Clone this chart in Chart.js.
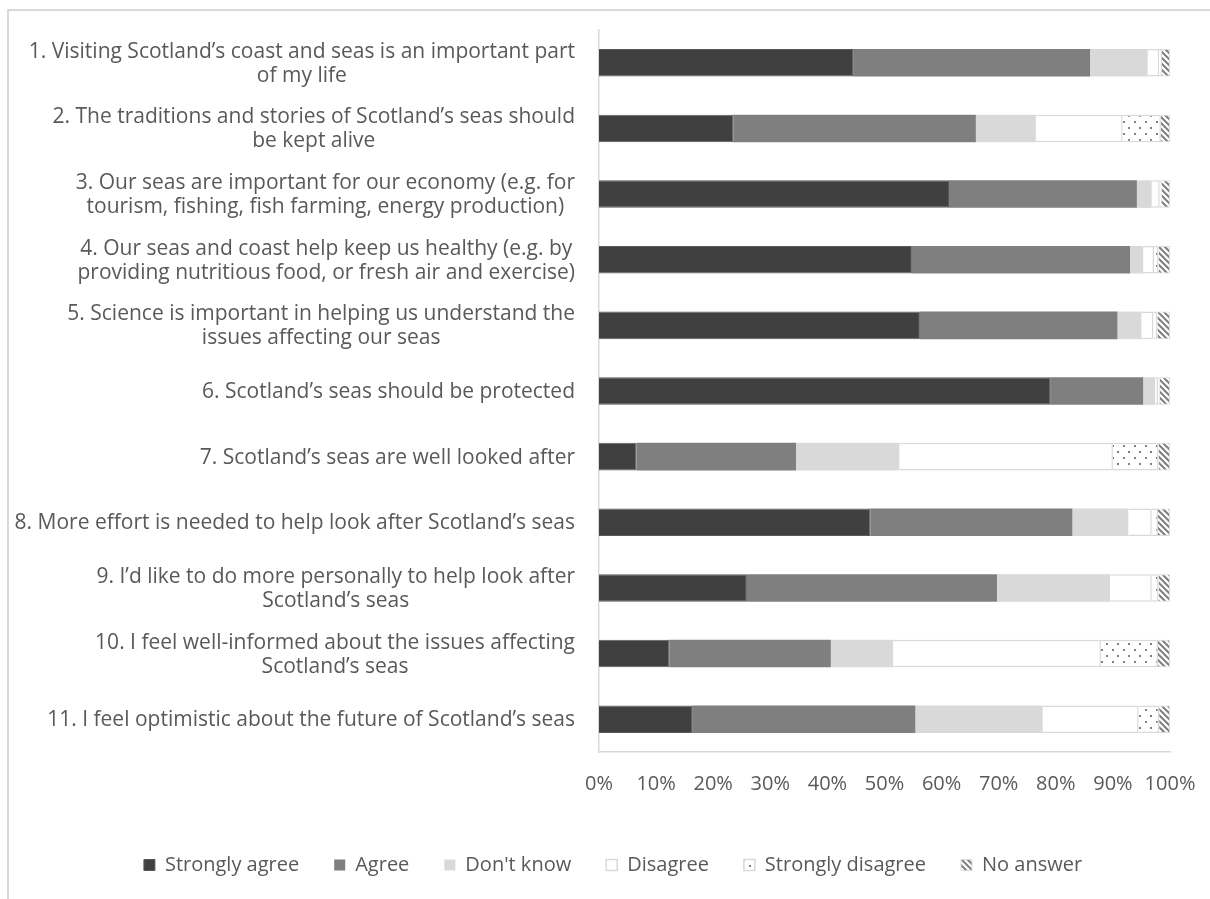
<!DOCTYPE html>
<html>
<head>
<meta charset="utf-8">
<script src="https://cdn.jsdelivr.net/npm/chart.js@4/dist/chart.umd.min.js"></script>
<style>
  html, body { margin: 0; padding: 0; background: #fff; }
  #frame { position: absolute; left: 7px; top: 9px; width: 1300px; height: 1000px;
           border-top: 2px solid #d9d9d9; border-left: 2px solid #d9d9d9; }
  #chart { position: absolute; left: 0; top: 0; }
</style>
</head>
<body>
<div id="frame"></div>
<canvas id="chart" width="1210" height="899"></canvas>
<script>
// 설문 항목 (줄바꿈 포함)
const statements = [
  ['1. Visiting Scotland’s coast and seas is an important part', 'of my life'],
  ['2. The traditions and stories of Scotland’s seas should', 'be kept alive'],
  ['3. Our seas are important for our economy (e.g. for', 'tourism, fishing, fish farming, energy production)'],
  ['4. Our seas and coast help keep us healthy (e.g. by', 'providing nutritious food, or fresh air and exercise)'],
  ['5. Science is important in helping us understand the', 'issues affecting our seas'],
  '6. Scotland’s seas should be protected',
  '7. Scotland’s seas are well looked after',
  '8. More effort is needed to help look after Scotland’s seas',
  ['9. I’d like to do more personally to help look after', 'Scotland’s seas'],
  ['10. I feel well-informed about the issues affecting', 'Scotland’s seas'],
  '11. I feel optimistic about the future of Scotland’s seas'
];

const stronglyAgree    = [44.5, 23.5, 61.3, 54.8, 56.2, 79.0,  6.6, 47.5, 25.9, 12.3, 16.3];
const agree            = [41.5, 42.5, 32.9, 38.2, 34.6, 16.3, 27.9, 35.4, 43.8, 28.3, 39.1];
const dontKnow         = [10.1, 10.5,  2.6,  2.3,  4.2,  2.1, 18.1,  9.8, 19.8, 10.9, 22.3];
const disagree         = [ 2.0, 15.2,  1.4,  1.9,  2.1,  0.5, 37.4,  4.1,  7.3, 36.4, 16.8];
const stronglyDisagree = [ 0.5,  6.7,  0.3,  0.8,  0.7,  0.3,  8.0,  1.1,  1.2, 10.0,  3.6];
const noAnswer         = [ 1.4,  1.6,  1.5,  2.0,  2.2,  1.8,  2.0,  2.1,  2.0,  2.1,  1.9];

const xTicks = [0, 10, 20, 30, 40, 50, 60, 70, 80, 90, 100];

const FONT = '"Open Sans", Lato, sans-serif';
const TEXT = '#595959';

function dotPattern() {
  const c = document.createElement('canvas');
  c.width = 11; c.height = 12;
  const g = c.getContext('2d');
  g.fillStyle = '#fff'; g.fillRect(0, 0, 11, 12);
  g.fillStyle = '#7f7f7f';
  g.fillRect(1, 1, 2, 2);
  g.fillRect(6, 7, 2, 2);
  return g.createPattern(c, 'repeat');
}

function hatchPattern() {
  const c = document.createElement('canvas');
  c.width = 6; c.height = 6;
  const g = c.getContext('2d');
  g.fillStyle = '#fff'; g.fillRect(0, 0, 6, 6);
  g.strokeStyle = '#7f7f7f'; g.lineWidth = 2;
  g.beginPath();
  g.moveTo(-1, -1); g.lineTo(7, 7);
  g.moveTo(-4, 2); g.lineTo(4, 10);
  g.moveTo(2, -4); g.lineTo(10, 4);
  g.stroke();
  return g.createPattern(c, 'repeat');
}

// y축 라벨: 블록은 오른쪽 정렬, 줄은 가운데 정렬
const labelPlugin = {
  id: 'blockLabels',
  afterLayout(chart) {
    // 범례를 조금 오른쪽으로
    chart.legend.left += 28;
    chart.legend.right += 28;
  },
  afterDraw(chart) {
    const ctx = chart.ctx;
    const scale = chart.scales.y;
    const right = chart.chartArea.left - 24;
    const lh = 24;
    ctx.save();
    ctx.font = '21px ' + FONT;
    ctx.fillStyle = TEXT;
    ctx.textAlign = 'center';
    ctx.textBaseline = 'middle';
    statements.forEach((s, i) => {
      const lines = Array.isArray(s) ? s : [s];
      const w = Math.max(...lines.map(l => ctx.measureText(l).width));
      const cx = right - w / 2;
      const y0 = scale.getPixelForTick(i) - (lines.length - 1) * lh / 2;
      lines.forEach((l, j) => ctx.fillText(l, cx, y0 + j * lh + 1));
    });
    ctx.restore();
  }
};

const common = { barPercentage: 0.42, categoryPercentage: 1 };

new Chart(document.getElementById('chart'), {
  type: 'bar',
  data: {
    labels: statements,
    datasets: [
      { label: 'Strongly agree', data: stronglyAgree, backgroundColor: '#404040', borderColor: '#595959', borderWidth: 1, ...common },
      { label: 'Agree', data: agree, backgroundColor: '#7f7f7f', borderColor: '#7f7f7f', borderWidth: 0, ...common },
      { label: "Don't know", data: dontKnow, backgroundColor: '#d9d9d9', borderColor: '#d9d9d9', borderWidth: 0, ...common },
      { label: 'Disagree', data: disagree, backgroundColor: '#ffffff', borderColor: '#d9d9d9', borderWidth: 1.5, ...common },
      { label: 'Strongly disagree', data: stronglyDisagree, backgroundColor: dotPattern(), borderColor: '#d9d9d9', borderWidth: 1.5, ...common },
      { label: 'No answer', data: noAnswer, backgroundColor: hatchPattern(), borderColor: '#d9d9d9', borderWidth: 1, ...common }
    ]
  },
  options: {
    indexAxis: 'y',
    responsive: false,
    animation: false,
    devicePixelRatio: 1,
    layout: { padding: { left: 0, right: 40, top: 30, bottom: 14 } },
    scales: {
      x: {
        stacked: true,
        min: 0, max: 100,
        afterBuildTicks(scale) { scale.ticks = xTicks.map(v => ({ value: v })); },
        afterFit(scale) {
          scale.height = 68;
          scale.paddingLeft = 0;
          scale.paddingRight = 0;
        },
        grid: { display: false },
        border: { display: true, color: '#d9d9d9', width: 1.5 },
        ticks: { color: TEXT, font: { family: FONT, size: 20 }, padding: 12, callback: v => v + '%' }
      },
      y: {
        stacked: true,
        afterFit(scale) { scale.width = 599; },
        grid: { display: false },
        border: { display: true, color: '#d9d9d9', width: 1.5 },
        ticks: { display: false }
      }
    },
    plugins: {
      legend: {
        position: 'bottom',
        labels: {
          color: TEXT,
          font: { family: FONT, size: 20 },
          boxWidth: 11, boxHeight: 11,
          padding: 35
        }
      },
      tooltip: { enabled: false }
    }
  },
  plugins: [labelPlugin]
});
</script>
</body>
</html>
